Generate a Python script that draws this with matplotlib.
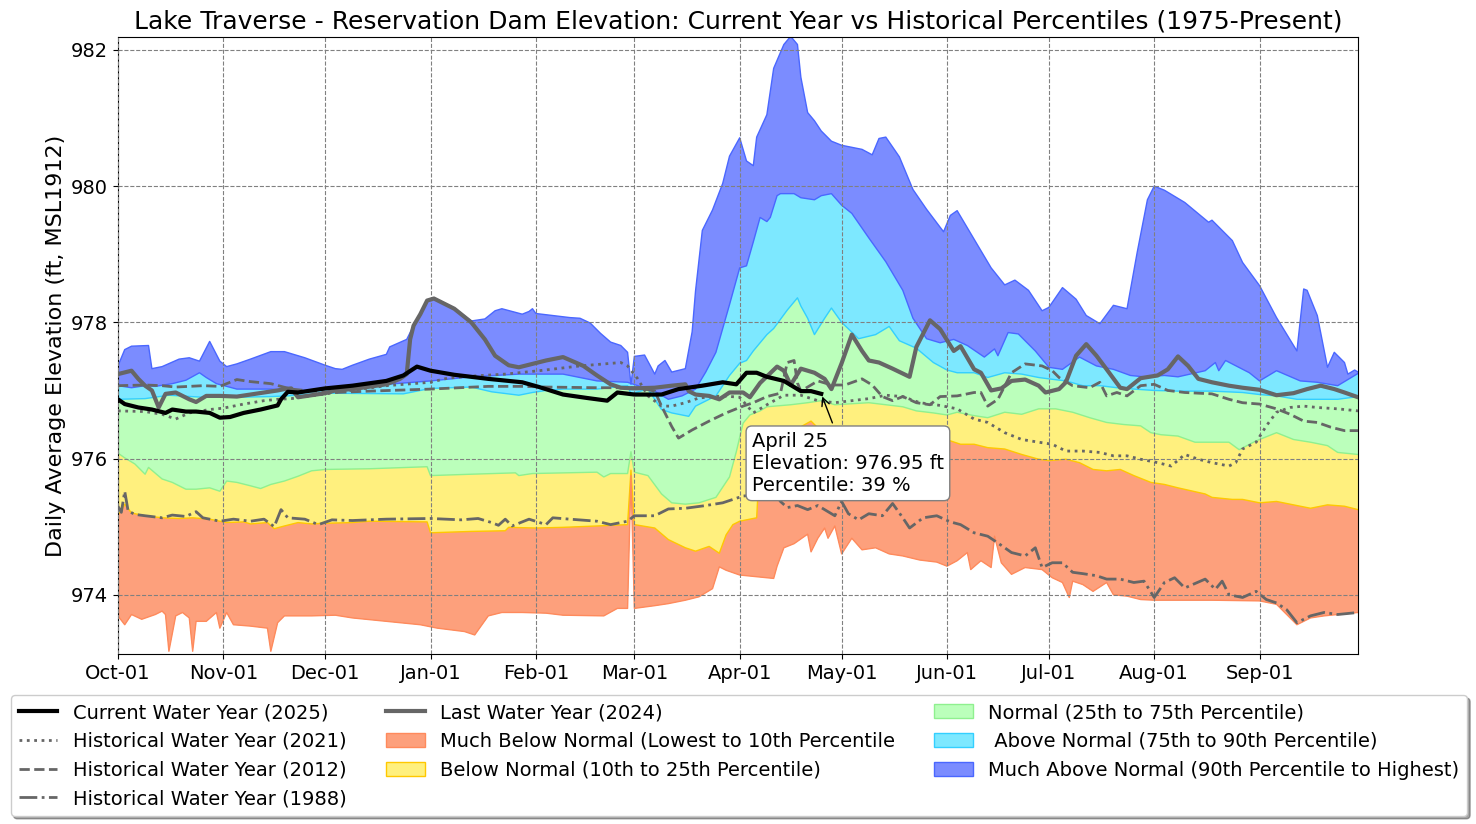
import numpy as np
import matplotlib
matplotlib.use("Agg")
import matplotlib.pyplot as plt
import matplotlib.dates as mdates
from matplotlib.patches import Patch
from matplotlib.lines import Line2D

# x positions are days counted from Oct-01 of a leap water year (Feb-29 included)
START = np.datetime64("2023-10-01")

# ---- percentile envelope (1975-present) ----
max_days = [0, 2, 4, 9, 10, 13, 18, 21, 24, 27, 30, 32, 35, 39, 45, 49, 55, 61, 64, 66,
            69, 74, 79, 80, 85, 87, 89, 91, 93, 99, 104, 108, 111, 113, 119, 121, 122, 123,
            133, 136, 139, 142, 145, 148, 150, 151, 152, 155, 158, 159, 161, 163, 167, 169,
            170, 172, 175, 178, 180, 183, 185, 187, 188, 191, 193, 196, 198, 200, 201, 203,
            205, 207, 210, 213, 216, 219, 222, 224, 226, 230, 234, 238, 243, 245, 247, 252,
            257, 261, 264, 268, 272, 274, 278, 282, 285, 289, 293, 297, 300, 303, 305, 308,
            314, 321, 322, 328, 331, 336, 341, 347, 349, 350, 353, 356, 358, 361, 362, 364, 365]
max_vals = [977.36, 977.60, 977.65, 977.66, 977.32, 977.35, 977.46, 977.48, 977.43, 977.72,
            977.43, 977.35, 977.39, 977.46, 977.57, 977.57, 977.48, 977.37, 977.32, 977.31,
            977.37, 977.46, 977.53, 977.64, 977.75, 977.95, 978.12, 978.32, 978.36, 978.21,
            978.02, 978.05, 978.17, 978.20, 978.12, 978.16, 978.20, 978.13, 978.07, 978.06,
            977.99, 977.84, 977.71, 977.66, 977.56, 977.09, 977.50, 977.52, 977.24, 977.36,
            977.44, 977.27, 977.32, 977.86, 978.46, 979.35, 979.65, 980.04, 980.44, 980.71,
            980.37, 980.30, 980.72, 981.05, 981.73, 982.08, 982.20, 982.08, 981.60, 981.08,
            980.96, 980.81, 980.66, 980.60, 980.57, 980.54, 980.46, 980.70, 980.72, 980.43,
            979.95, 979.66, 979.33, 979.57, 979.64, 979.22, 978.80, 978.55, 978.62, 978.47,
            978.17, 978.22, 978.51, 978.34, 978.10, 977.98, 978.25, 978.20, 979.03, 979.80,
            980.00, 979.94, 979.76, 979.47, 979.50, 979.20, 978.88, 978.54, 978.07, 977.58,
            978.49, 978.47, 978.10, 977.34, 977.56, 977.41, 977.24, 977.30, 977.27]

p90_days = [0, 4, 8, 11, 16, 20, 24, 26, 29, 35, 45, 50, 56, 61, 79, 92, 104, 118, 126, 131,
            141, 150, 153, 158, 162, 166, 170, 173, 176, 180, 183, 185, 187, 189, 191, 192,
            194, 195, 199, 201, 205, 207, 210, 213, 216, 221, 226, 231, 234, 238, 242, 246,
            250, 255, 258, 259, 262, 265, 270, 274, 278, 283, 288, 293, 298, 302, 308, 312,
            320, 323, 324, 326, 333, 336, 341, 348, 353, 359, 365]
p90_vals = [977.07, 977.04, 977.07, 977.06, 977.10, 977.15, 977.26, 977.19, 977.10, 977.02,
            977.02, 977.00, 977.00, 977.02, 977.09, 977.14, 977.20, 977.24, 977.24, 977.24,
            977.14, 977.12, 977.07, 976.99, 976.87, 976.92, 977.02, 977.27, 977.56, 978.26,
            978.80, 978.83, 979.18, 979.54, 979.48, 979.54, 979.86, 979.89, 979.89, 979.83,
            979.80, 979.86, 979.89, 979.72, 979.60, 979.24, 978.89, 978.47, 978.06, 977.76,
            977.70, 977.75, 977.66, 977.49, 977.61, 977.51, 977.85, 977.83, 977.58, 977.34,
            977.31, 977.49, 977.36, 977.31, 977.22, 977.20, 977.22, 977.20, 977.29, 977.41,
            977.29, 977.44, 977.26, 977.14, 977.29, 977.14, 977.12, 977.07, 977.25]

p75_days = [0, 8, 15, 25, 35, 45, 50, 61, 84, 92, 104, 110, 118, 122, 126, 131, 141, 150, 151,
            156, 160, 163, 168, 170, 176, 180, 183, 185, 187, 191, 193, 197, 200, 201, 203,
            205, 208, 210, 213, 218, 223, 227, 230, 235, 240, 244, 247, 252, 256, 261, 266,
            271, 274, 279, 284, 289, 294, 299, 305, 312, 322, 331, 336, 341, 347, 359, 365]
p75_vals = [976.87, 976.88, 976.93, 976.90, 976.90, 976.91, 976.92, 976.96, 976.95, 977.03,
            977.05, 976.98, 976.93, 976.97, 977.00, 977.02, 977.02, 977.07, 976.95, 977.02,
            976.72, 976.67, 976.62, 976.77, 976.92, 977.22, 977.40, 977.44, 977.58, 977.82,
            977.91, 978.18, 978.36, 978.24, 978.06, 977.82, 978.06, 978.21, 978.00, 977.76,
            977.82, 977.94, 977.73, 977.62, 977.41, 977.30, 977.26, 977.26, 977.19, 977.26,
            977.24, 977.19, 977.17, 977.14, 977.07, 977.07, 977.04, 977.02, 977.00, 976.99,
            976.99, 976.97, 976.94, 976.92, 976.87, 976.87, 976.91]

p25_days = [0, 2, 5, 8, 9, 13, 16, 20, 23, 27, 30, 32, 35, 39, 42, 45, 49, 53, 57, 61, 74, 91,
            92, 104, 117, 118, 122, 141, 143, 145, 150, 151, 152, 156, 160, 163, 167, 171, 176,
            180, 182, 184, 186, 189, 191, 198, 203, 207, 211, 221, 231, 235, 240, 244, 247,
            252, 256, 261, 266, 271, 276, 281, 286, 291, 296, 301, 304, 307, 312, 317, 327,
            330, 335, 341, 346, 351, 356, 359, 365]
p25_vals = [976.08, 976.01, 975.92, 975.77, 975.87, 975.70, 975.65, 975.55, 975.55, 975.57,
            975.52, 975.67, 975.65, 975.60, 975.56, 975.62, 975.67, 975.74, 975.82, 975.84,
            975.85, 975.88, 975.75, 975.77, 975.79, 975.75, 975.78, 975.80, 975.73, 975.78,
            975.78, 976.10, 975.80, 975.75, 975.48, 975.35, 975.33, 975.35, 975.43, 975.73,
            976.10, 976.52, 976.64, 976.70, 976.76, 976.79, 976.82, 976.85, 976.79, 976.82,
            976.76, 976.70, 976.67, 976.64, 976.68, 976.63, 976.60, 976.68, 976.65, 976.73,
            976.73, 976.68, 976.60, 976.53, 976.50, 976.48, 976.38, 976.35, 976.33, 976.24,
            976.24, 976.13, 976.26, 976.38, 976.28, 976.24, 976.19, 976.09, 976.06]

p10_days = [0, 1, 2, 4, 8, 13, 18, 22, 27, 32, 37, 39, 44, 46, 49, 53, 57, 61, 69, 74, 91, 92,
            104, 114, 115, 123, 131, 141, 150, 151, 152, 158, 162, 167, 170, 174, 177, 179,
            181, 183, 185, 188, 189, 195, 204, 206, 215, 225, 235, 242, 245, 248, 252, 256,
            261, 266, 271, 274, 279, 283, 287, 291, 295, 299, 304, 308, 312, 320, 322, 328,
            331, 336, 341, 346, 351, 356, 361, 365]
p10_vals = [975.18, 975.23, 975.33, 975.20, 975.16, 975.13, 975.12, 975.13, 975.11, 975.06,
            975.07, 975.04, 975.06, 974.97, 975.01, 975.06, 975.04, 975.05, 975.06, 975.08,
            975.07, 974.91, 974.93, 974.94, 974.99, 974.98, 974.99, 975.01, 975.03, 975.83,
            975.03, 974.98, 974.81, 974.69, 974.64, 974.71, 974.61, 974.88, 975.03, 975.08,
            975.10, 975.13, 976.10, 976.30, 976.55, 976.45, 976.45, 976.40, 976.35, 976.28,
            976.26, 976.21, 976.21, 976.16, 976.14, 976.06, 975.99, 975.97, 975.99, 975.94,
            975.84, 975.82, 975.84, 975.75, 975.65, 975.62, 975.57, 975.48, 975.43, 975.40,
            975.40, 975.35, 975.37, 975.32, 975.27, 975.32, 975.30, 975.25]

min_days = [0, 2, 4, 7, 11, 13, 14, 15, 17, 19, 21, 22, 23, 26, 29, 30, 32, 34, 39, 44, 45, 47,
            49, 57, 64, 69, 79, 89, 94, 102, 105, 109, 113, 119, 126, 131, 143, 147, 150, 151,
            152, 158, 162, 167, 171, 175, 177, 179, 183, 187, 193, 194, 196, 199, 203, 204,
            206, 208, 209, 211, 213, 216, 219, 223, 227, 231, 236, 241, 244, 247, 250, 251,
            254, 257, 258, 260, 263, 267, 272, 275, 278, 280, 281, 284, 287, 291, 293, 297,
            301, 305, 312, 322, 336, 341, 344, 347, 351, 355, 359, 365]
min_vals = [973.69, 973.56, 973.71, 973.64, 973.71, 973.76, 973.71, 973.17, 973.69, 973.74,
            973.66, 973.17, 973.61, 973.61, 973.74, 973.51, 973.74, 973.56, 973.54, 973.51,
            973.17, 973.59, 973.69, 973.69, 973.70, 973.66, 973.61, 973.56, 973.51, 973.46,
            973.41, 973.69, 973.74, 973.74, 973.73, 973.70, 973.69, 973.80, 973.80, 975.75,
            973.80, 973.84, 973.87, 973.92, 973.97, 974.09, 974.41, 974.36, 974.29, 974.27,
            974.24, 974.42, 974.69, 974.75, 974.89, 974.63, 974.83, 974.98, 974.83, 975.01,
            974.60, 974.83, 974.66, 974.69, 974.60, 974.57, 974.51, 974.48, 974.42, 974.50,
            974.62, 974.37, 974.50, 974.40, 974.86, 974.47, 974.30, 974.40, 974.37, 974.25,
            974.18, 973.96, 974.20, 974.15, 974.05, 974.18, 974.00, 973.98, 973.93, 973.92,
            973.92, 973.92, 973.91, 973.86, 973.71, 973.56, 973.66, 973.69, 973.71, 973.74]

# ---- individual water years ----
wy2025_days = [0, 2, 6, 10, 14, 16, 20, 23, 27, 30, 33, 37, 42, 47, 48, 50, 53, 61, 69, 79, 84,
               88, 92, 99, 109, 119, 124, 131, 138, 144, 147, 152, 160, 165, 172, 178, 182,
               185, 188, 191, 196, 198, 201, 204, 207]
wy2025_vals = [976.87, 976.80, 976.75, 976.72, 976.67, 976.72, 976.69, 976.69, 976.67, 976.60,
               976.61, 976.67, 976.72, 976.78, 976.87, 976.98, 976.97, 977.03, 977.07, 977.14,
               977.22, 977.35, 977.29, 977.23, 977.17, 977.12, 977.05, 976.94, 976.89, 976.85,
               976.97, 976.94, 976.94, 977.02, 977.07, 977.12, 977.09, 977.26, 977.26, 977.20,
               977.14, 977.08, 976.99, 976.99, 976.95]

wy2024_days = [0, 4, 6, 8, 10, 12, 14, 17, 21, 23, 26, 30, 35, 39, 47, 49, 51, 53, 57, 61, 64,
               69, 79, 83, 85, 86, 87, 89, 91, 93, 99, 104, 108, 111, 115, 118, 122, 126, 131,
               137, 141, 145, 148, 152, 158, 163, 167, 168, 170, 174, 177, 180, 184, 186, 189,
               194, 196, 198, 201, 205, 208, 210, 213, 216, 219, 221, 224, 228, 233, 235, 239,
               242, 246, 248, 252, 254, 257, 260, 263, 267, 271, 273, 277, 279, 282, 285, 288,
               291, 295, 297, 301, 306, 309, 312, 315, 318, 322, 327, 331, 336, 341, 346, 350,
               354, 358, 361, 365]
wy2024_vals = [977.24, 977.29, 977.17, 977.07, 977.00, 976.75, 976.95, 976.97, 976.87, 976.83,
               976.92, 976.92, 976.91, 976.94, 977.00, 977.02, 977.03, 976.90, 976.93, 976.96,
               977.00, 977.02, 977.09, 977.17, 977.24, 977.75, 977.95, 978.12, 978.32, 978.35,
               978.20, 978.00, 977.75, 977.51, 977.37, 977.34, 977.39, 977.44, 977.49, 977.36,
               977.22, 977.09, 977.04, 977.03, 977.04, 977.07, 977.09, 976.99, 976.94, 976.92,
               976.87, 976.97, 976.97, 976.90, 977.11, 977.35, 977.29, 977.08, 977.32, 977.26,
               977.17, 977.02, 977.40, 977.82, 977.58, 977.44, 977.41, 977.32, 977.20, 977.64,
               978.03, 977.90, 977.58, 977.65, 977.31, 977.26, 977.00, 977.03, 977.14, 977.16,
               977.07, 976.97, 977.02, 977.12, 977.51, 977.68, 977.51, 977.31, 977.04, 977.02,
               977.18, 977.22, 977.31, 977.50, 977.36, 977.17, 977.12, 977.07, 977.04, 977.01,
               976.93, 976.96, 977.02, 977.07, 977.02, 976.97, 976.90]

wy2021_days = [0, 8, 13, 17, 21, 27, 31, 37, 43, 47, 51, 57, 64, 79, 92, 97, 104, 114, 124, 136,
               148, 150, 153, 156, 160, 163, 167, 171, 178, 183, 187, 191, 196, 201, 206, 211,
               216, 221, 226, 231, 236, 242, 247, 252, 256, 261, 266, 271, 275, 279, 284, 289,
               293, 297, 301, 306, 310, 314, 318, 322, 327, 329, 331, 335, 338, 341, 345, 349,
               353, 359, 365]
wy2021_vals = [976.70, 976.69, 976.65, 976.58, 976.67, 976.72, 976.74, 976.80, 976.85, 976.87,
               976.88, 976.92, 976.97, 977.07, 977.12, 977.18, 977.21, 977.24, 977.29, 977.36,
               977.41, 977.36, 977.17, 976.92, 976.77, 976.77, 976.82, 976.89, 976.92, 976.90,
               976.67, 976.79, 976.93, 976.93, 976.85, 976.82, 976.85, 976.88, 976.93, 976.91,
               976.82, 976.78, 976.73, 976.58, 976.53, 976.38, 976.28, 976.24, 976.21, 976.11,
               976.11, 976.09, 976.04, 976.04, 975.99, 975.94, 975.89, 976.06, 975.99, 975.94,
               975.89, 975.94, 976.14, 976.24, 976.48, 976.68, 976.75, 976.77, 976.75, 976.73,
               976.70]

wy2012_days = [0, 8, 13, 17, 25, 30, 35, 39, 45, 51, 57, 64, 74, 92, 109, 119, 126, 141, 153,
               158, 160, 163, 165, 169, 174, 179, 184, 187, 191, 195, 197, 199, 200, 201, 206,
               210, 214, 219, 222, 225, 228, 231, 235, 239, 242, 247, 252, 254, 256, 259, 263,
               267, 272, 275, 277, 281, 286, 289, 291, 294, 297, 301, 305, 309, 314, 322, 327,
               331, 336, 341, 345, 349, 353, 357, 361, 365]
wy2012_vals = [977.07, 977.08, 977.07, 977.05, 977.07, 977.06, 977.16, 977.13, 977.10, 977.02,
               976.99, 976.97, 976.99, 977.02, 977.06, 977.06, 977.05, 977.04, 977.04, 976.99,
               976.77, 976.47, 976.30, 976.42, 976.55, 976.67, 976.77, 976.82, 976.91, 976.96,
               977.41, 977.44, 977.11, 976.99, 977.14, 977.08, 977.08, 977.17, 977.08, 976.91,
               976.85, 976.91, 976.82, 976.79, 976.91, 976.92, 976.97, 976.97, 976.77, 976.87,
               977.26, 977.39, 977.36, 977.29, 977.19, 977.07, 977.04, 977.12, 976.92, 976.97,
               976.92, 977.07, 977.09, 977.00, 976.97, 976.95, 976.87, 976.82, 976.80, 976.73,
               976.65, 976.55, 976.53, 976.46, 976.41, 976.41]

wy1988_days = [0, 1, 2, 3, 5, 8, 13, 16, 20, 23, 25, 30, 34, 39, 43, 46, 48, 50, 55, 59, 63, 69,
               79, 92, 101, 106, 110, 112, 114, 116, 121, 126, 128, 133, 141, 145, 150, 152,
               158, 162, 167, 173, 178, 184, 187, 193, 195, 197, 200, 203, 206, 211, 213, 215,
               218, 221, 225, 228, 231, 233, 237, 241, 245, 248, 252, 256, 259, 263, 267, 270,
               272, 275, 278, 281, 284, 288, 291, 295, 299, 302, 305, 308, 311, 314, 320, 323,
               325, 327, 331, 335, 338, 341, 344, 347, 351, 355, 359, 365]
wy1988_vals = [975.30, 975.21, 975.52, 975.23, 975.18, 975.16, 975.13, 975.17, 975.15, 975.22,
               975.13, 975.08, 975.11, 975.08, 975.11, 975.00, 975.25, 975.13, 975.11, 975.03,
               975.10, 975.09, 975.11, 975.12, 975.10, 975.12, 975.06, 975.02, 975.11, 975.01,
               975.11, 975.03, 975.13, 975.11, 975.08, 975.03, 975.08, 975.16, 975.16, 975.26,
               975.27, 975.31, 975.35, 975.45, 975.46, 975.51, 975.37, 975.28, 975.31, 975.25,
               975.31, 975.16, 975.37, 975.19, 975.10, 975.19, 975.16, 975.34, 975.13, 974.98,
               975.13, 975.16, 975.07, 975.03, 974.91, 974.86, 974.76, 974.62, 974.57, 974.69,
               974.40, 974.47, 974.47, 974.33, 974.31, 974.28, 974.23, 974.23, 974.18, 974.20,
               973.96, 974.18, 974.25, 974.10, 974.23, 974.08, 974.20, 974.00, 973.96, 974.05,
               973.93, 973.88, 973.78, 973.59, 973.69, 973.74, 973.71, 973.74]

last_day = 207          # April 25
last_elev = 976.95
last_pct = 39


def xnum(days):
    return mdates.date2num(START + np.array(days, dtype="timedelta64[D]"))


fig = plt.figure(figsize=(14.76, 8.24), dpi=100)
ax = fig.add_axes([0.0799, 0.2063, 0.8402, 0.7488])

bands = [
    ("Much Above Normal (90th Percentile to Highest)", max_days, max_vals, "#7b8cff", "#4a67ff"),
    (" Above Normal (75th to 90th Percentile)", p90_days, p90_vals, "#7de8ff", "#33cfff"),
    ("Normal (25th to 75th Percentile)", p75_days, p75_vals, "#bbffbb", "#8ff08f"),
    ("Below Normal (10th to 25th Percentile)", p25_days, p25_vals, "#fff07e", "#ffc800"),
    ("Much Below Normal (Lowest to 10th Percentile", p10_days, p10_vals, "#fda07c", "#ff8a5c"),
]
xmin_num = xnum(min_days)
for label, d, v, fc, ec in bands:
    xs = np.concatenate([xnum(d), xmin_num[::-1]])
    ys = np.concatenate([v, min_vals[::-1]])
    ax.fill(xs, ys, color=fc, lw=0, zorder=1)

# band edges (each boundary takes the colour of the band above it)
ax.plot(xnum(max_days), max_vals, color="#4a67ff", lw=1, zorder=2)
ax.plot(xnum(p90_days), p90_vals, color="#4a67ff", lw=1, zorder=2)
ax.plot(xnum(p75_days), p75_vals, color="#33cfff", lw=1, zorder=2)
ax.plot(xnum(p25_days), p25_vals, color="#8ff08f", lw=1, zorder=2)
ax.plot(xnum(p10_days), p10_vals, color="#ffc800", lw=1, zorder=2)
ax.plot(xnum(min_days), min_vals, color="#ff8a5c", lw=1, zorder=2)

gray = "#666666"
ax.plot(xnum(wy2021_days), wy2021_vals, color=gray, lw=2, ls=":", zorder=3)
ax.plot(xnum(wy2012_days), wy2012_vals, color=gray, lw=2, ls="--", zorder=3)
ax.plot(xnum(wy1988_days), wy1988_vals, color=gray, lw=2, ls="-.", zorder=3)
ax.plot(xnum(wy2024_days), wy2024_vals, color=gray, lw=3, zorder=4)
ax.plot(xnum(wy2025_days), wy2025_vals, color="black", lw=3, zorder=5)

ax.annotate(f"April 25\nElevation: {last_elev:.2f} ft\nPercentile: {last_pct} %",
            xy=(xnum([last_day])[0], last_elev),
            xytext=(xnum([186])[0] + 0.6, 975.93), textcoords="data",
            ha="left", va="center", fontsize=14, zorder=6,
            bbox=dict(boxstyle="round", fc="white", ec="gray"),
            arrowprops=dict(arrowstyle="->", color="black", lw=1))

ax.set_xlim(xnum([0])[0], xnum([365])[0])
ax.set_ylim(973.13, 982.19)
ax.set_yticks([974, 976, 978, 980, 982])
ax.xaxis.set_major_locator(mdates.MonthLocator(bymonthday=1))
ax.xaxis.set_major_formatter(mdates.DateFormatter("%b-%d"))
ax.tick_params(labelsize=14)
ax.grid(True, color="gray", ls="--", lw=0.8)
ax.set_axisbelow(False)

ax.set_title("Lake Traverse - Reservation Dam Elevation: Current Year vs Historical Percentiles (1975-Present)",
             fontsize=18)
ax.set_ylabel("Daily Average Elevation (ft, MSL1912)", fontsize=16)

handles = [
    Line2D([], [], color="black", lw=3, label="Current Water Year (2025)"),
    Line2D([], [], color=gray, lw=2, ls=":", label="Historical Water Year (2021)"),
    Line2D([], [], color=gray, lw=2, ls="--", label="Historical Water Year (2012)"),
    Line2D([], [], color=gray, lw=2, ls="-.", label="Historical Water Year (1988)"),
    Line2D([], [], color=gray, lw=3, label="Last Water Year (2024)"),
]
# order: much below, below, normal, above, much above
for label, d, v, fc, ec in reversed(bands):
    handles.append(Patch(facecolor=fc, edgecolor=ec, label=label))
fig.legend(handles=handles, loc="upper center", bbox_to_anchor=(0.5007, 0.168), ncol=3,
           fontsize=14, fancybox=True, shadow=True)

fig.savefig("out.png", dpi=100)
